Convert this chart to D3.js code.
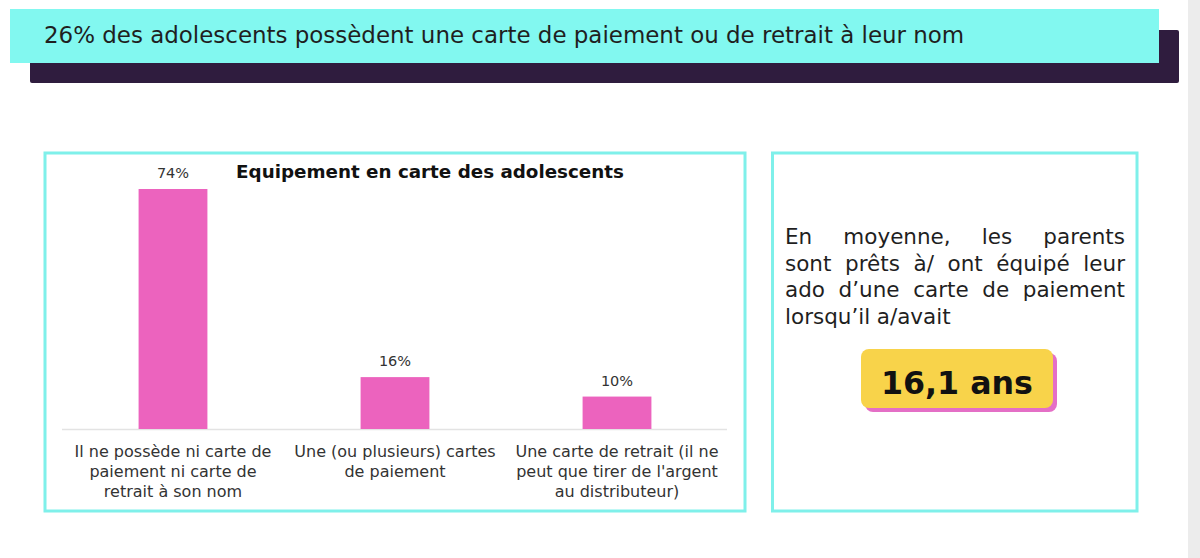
<!DOCTYPE html>
<html><head><meta charset="utf-8">
<script src="https://cdn.jsdelivr.net/npm/d3@7"></script>
<style>html,body{margin:0;padding:0;background:#fff;overflow:hidden}svg{display:block}</style>
</head><body>
<svg id="c" width="1200" height="558"></svg>
<script>
const headline = "26% des adolescents possèdent une carte de paiement ou de retrait à leur nom";
const chartTitle = "Equipement en carte des adolescents";
const categories = [
  ["Il ne possède ni carte de", "paiement ni carte de", "retrait à son nom"],
  ["Une (ou plusieurs) cartes", "de paiement"],
  ["Une carte de retrait (il ne", "peut que tirer de l'argent", "au distributeur)"]
];
const values = [74, 16, 10];
const valueLabels = ["74%", "16%", "10%"];
const sideLines = ["En moyenne, les parents", "sont prêts à/ ont équipé leur", "ado d’une carte de paiement", "lorsqu’il a/avait"];
const badgeText = "16,1 ans";

const FONT = "'DejaVu Sans', sans-serif";
const svg = d3.select("#c");

function fit(t, target){
  const w = t.node().getComputedTextLength();
  const fs = +t.attr("font-size");
  t.attr("font-size", fs*target/w);
  return t;
}

svg.append("rect").attr("x",1188).attr("y",0).attr("width",12).attr("height",558).attr("fill","#ececec");

svg.append("rect").attr("x",30).attr("y",30).attr("width",1149).attr("height",53).attr("rx",2).attr("fill","#2f1c3e");
svg.append("rect").attr("x",10).attr("y",9).attr("width",1149).attr("height",54).attr("fill","#82f8f0");
const ht = svg.append("text").attr("x",44).attr("y",43).attr("font-family",FONT).attr("font-size",20)
  .attr("fill","#1f1f1f").text(headline);
fit(ht, 921);

svg.append("rect").attr("x",45).attr("y",153).attr("width",700).attr("height",358)
  .attr("fill","none").attr("stroke","#7ff0ea").attr("stroke-width",3);
svg.append("rect").attr("x",772.5).attr("y",153).attr("width",364.5).attr("height",358)
  .attr("fill","none").attr("stroke","#7ff0ea").attr("stroke-width",3);

const x = d3.scaleBand().domain(d3.range(categories.length)).range([62, 728]).paddingInner(0.69).paddingOuter(0.345);
const y = d3.scaleLinear().domain([0, 74]).range([429, 189]);

const ct = svg.append("text").attr("x",430).attr("y",178).attr("text-anchor","middle").attr("font-family",FONT)
  .attr("font-weight","bold").attr("font-size",17).attr("fill","#111").text(chartTitle);
fit(ct, 388);

svg.append("line").attr("x1",62).attr("x2",727).attr("y1",429.5).attr("y2",429.5)
  .attr("stroke","#e3e3e3").attr("stroke-width",1.5);

svg.selectAll("rect.bar").data(values).join("rect").attr("class","bar")
  .attr("x",(d,i)=>x(i)).attr("width",x.bandwidth())
  .attr("y",d=>y(d)).attr("height",d=>y(0)-y(d)).attr("fill","#ec63be");

svg.selectAll("text.val").data(values).join("text").attr("class","val")
  .attr("x",(d,i)=>x(i)+x.bandwidth()/2).attr("y",d=>y(d)-11)
  .attr("text-anchor","middle").attr("font-family",FONT).attr("font-size",14.5).attr("fill","#333")
  .text((d,i)=>valueLabels[i]);

const cats = svg.selectAll("g.cat").data(categories).join("g").attr("class","cat");
cats.each(function(lines,i){
  const g = d3.select(this);
  lines.forEach((l,k)=>{
    g.append("text").attr("x",x(i)+x.bandwidth()/2).attr("y",457+k*20)
      .attr("text-anchor","middle").attr("font-family",FONT).attr("font-size",16).attr("fill","#333").text(l);
  });
});

const left = 785, right = 1125;
sideLines.forEach((line,k)=>{
  const yy = 244 + k*26.5;
  const words = line.split(" ");
  const g = svg.append("g");
  const ts = words.map(w=>g.append("text").attr("y",yy).attr("font-family",FONT).attr("font-size",21.5).attr("fill","#1f1f1f").text(w));
  const widths = ts.map(t=>t.node().getComputedTextLength());
  const total = d3.sum(widths);
  const last = k === sideLines.length-1;
  const gap = last ? 6.5 : (right-left-total)/(words.length-1);
  let cx = left;
  ts.forEach((t,j)=>{ t.attr("x",cx); cx += widths[j]+gap; });
});

svg.append("rect").attr("x",865).attr("y",353).attr("width",192).attr("height",59).attr("rx",8).attr("fill","#e46fc6");
svg.append("rect").attr("x",861).attr("y",349).attr("width",192).attr("height",59).attr("rx",8).attr("fill","#f8d34a");
const bt = svg.append("text").attr("x",957).attr("y",394).attr("text-anchor","middle").attr("font-family",FONT)
  .attr("font-weight","bold").attr("font-size",34).attr("fill","#111").text(badgeText);
fit(bt, 152);
</script>
</body></html>
